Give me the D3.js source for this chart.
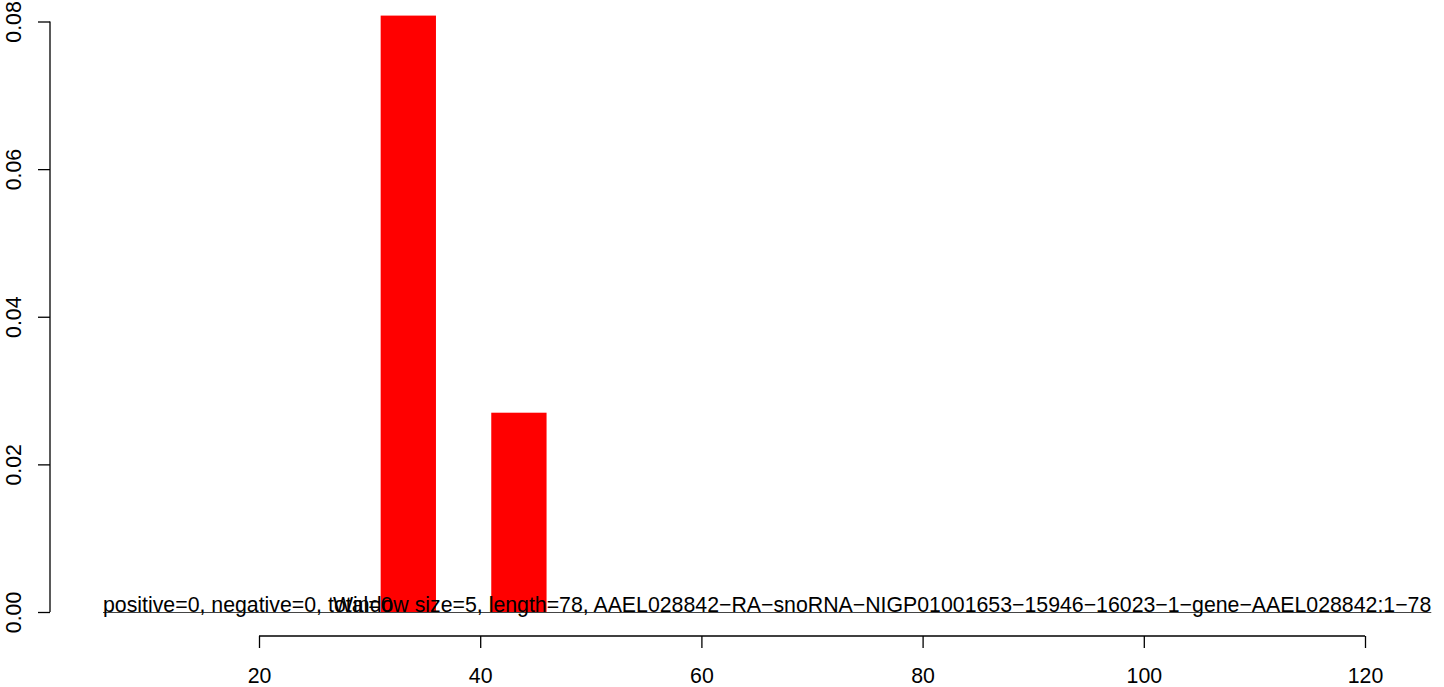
<!DOCTYPE html>
<html>
<head>
<meta charset="utf-8">
<script src="https://cdn.jsdelivr.net/npm/d3@7"></script>
<style>
  html, body { margin: 0; padding: 0; background: #fff; }
  svg { display: block; }
  text { font-family: "Liberation Sans", Arial, Helvetica, sans-serif; fill: #000; }
</style>
</head>
<body>
<svg id="chart" width="1444" height="687"></svg>
<script>
// ---- data ----
const binStart = [31, 41];
const binEnd   = [36, 46];
const binValue = [0.0808, 0.027];
const xTicks = [20, 40, 60, 80, 100, 120];
const yTicks = [0, 0.02, 0.04, 0.06, 0.08];
const yTickLabels = ["0.00", "0.02", "0.04", "0.06", "0.08"];
const infoLeft  = "positive=0, negative=0, total=0";
const infoRight = "Window size=5, length=78, AAEL028842\u2212RA\u2212snoRNA\u2212NIGP01001653\u221215946\u221216023\u22121\u2212gene\u2212AAEL028842:1\u221278";

// ---- layout ----
const fontSize = 21.3;
const svg = d3.select("#chart");

const x = d3.scaleLinear().domain([20, 120]).range([259, 1365]);
const y = d3.scaleLinear().domain([0, 0.08]).range([612, 21.5]);

// bars
svg.append("g").selectAll("rect")
  .data(binValue.map((v, i) => ({ x0: binStart[i], x1: binEnd[i], v })))
  .join("rect")
  .attr("x", d => x(d.x0))
  .attr("width", d => x(d.x1) - x(d.x0))
  .attr("y", d => y(d.v))
  .attr("height", d => y(0) - y(d.v))
  .attr("fill", "#ff0000");

// y axis
const yAxis = svg.append("g").attr("transform", "translate(50,0)");
yAxis.call(d3.axisLeft(y).tickValues(yTicks).tickFormat((d, i) => yTickLabels[i]).tickSize(12).tickSizeOuter(0));
yAxis.select(".domain").attr("d", `M0,${y(0)}V${y(0.08)}`).attr("stroke", "#000").attr("stroke-width", 1.3);
yAxis.selectAll(".tick line").attr("stroke", "#000").attr("stroke-width", 1.3);
yAxis.selectAll(".tick text")
  .attr("font-size", fontSize)
  .attr("font-family", "Liberation Sans, Arial, sans-serif")
  .attr("x", 0).attr("dy", 0)
  .attr("text-anchor", "middle")
  .attr("transform", "translate(-35,0) rotate(-90)")
  .attr("dominant-baseline", "middle");

// x axis
const xAxis = svg.append("g").attr("transform", "translate(0,636)");
xAxis.call(d3.axisBottom(x).tickValues(xTicks).tickFormat(d3.format("d")).tickSize(12).tickSizeOuter(0));
xAxis.select(".domain").attr("d", `M${x(20)},0H${x(120)}`).attr("stroke", "#000").attr("stroke-width", 1.3);
xAxis.selectAll(".tick line").attr("stroke", "#000").attr("stroke-width", 1.3);
xAxis.selectAll(".tick text")
  .attr("font-size", fontSize)
  .attr("font-family", "Liberation Sans, Arial, sans-serif")
  .attr("y", 0).attr("dy", 0)
  .attr("transform", "translate(0,47)");

// info texts at baseline
const infoG = svg.append("g");
infoG.append("text").attr("x", 103).attr("y", 612).attr("font-size", fontSize).text(infoLeft);
const t2 = infoG.append("text").attr("x", 333).attr("y", 612).attr("font-size", fontSize).text(infoRight);
const endX = 333 + t2.node().getComputedTextLength();
infoG.insert("line", "text")
  .attr("x1", 103).attr("x2", endX)
  .attr("y1", 612.5).attr("y2", 612.5)
  .attr("stroke", "#444").attr("stroke-width", 1);
</script>
</body>
</html>
